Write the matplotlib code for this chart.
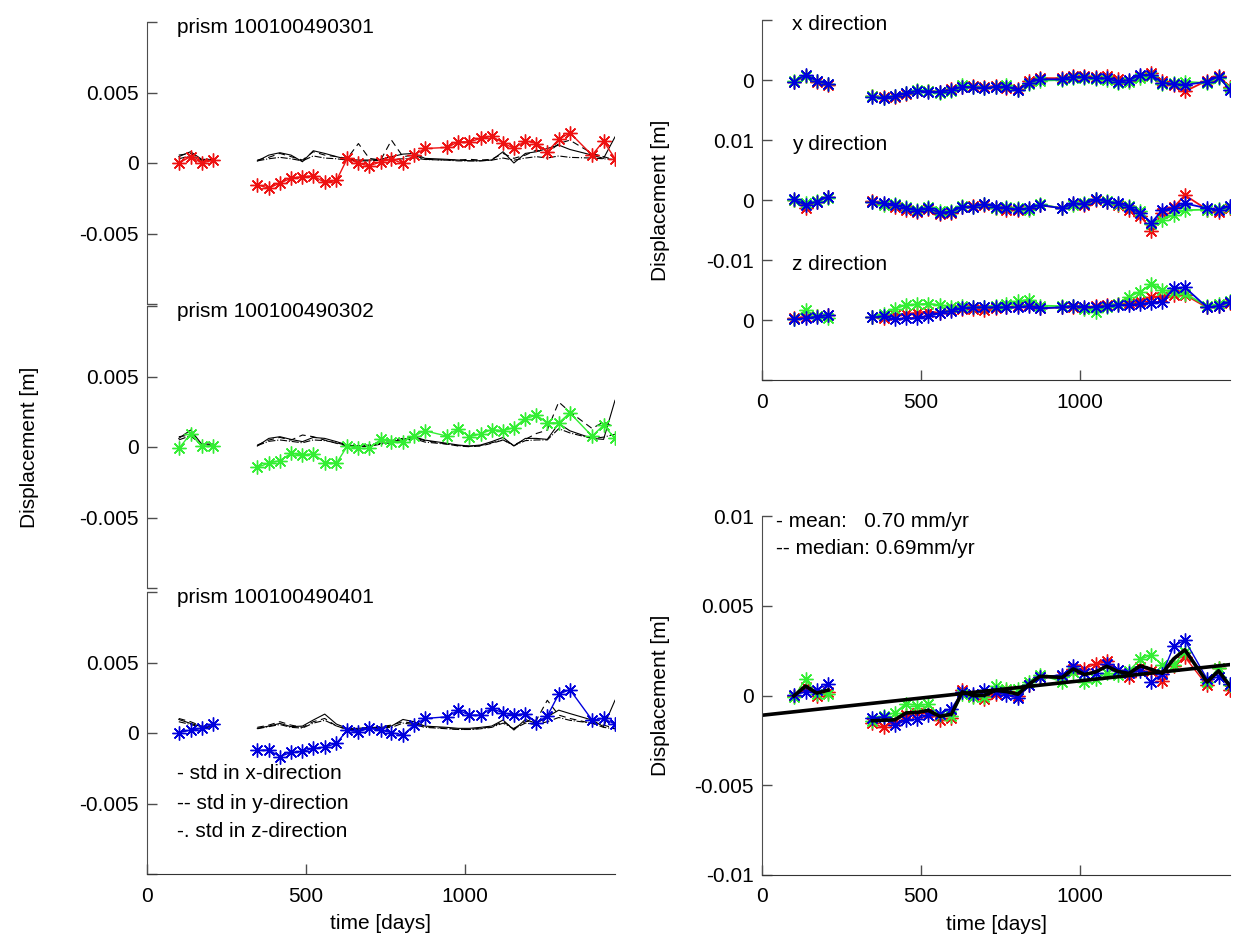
import numpy as np
import matplotlib
matplotlib.use('Agg')
import matplotlib.pyplot as plt

plt.rcParams['font.family'] = ['Liberation Sans', 'DejaVu Sans']
plt.rcParams['font.size'] = 15

# Epochs [days]; a data gap sits after the first 4 epochs
days = [100, 137, 172, 208,
        347, 383, 418, 453, 489, 523, 559, 596, 630, 665, 699, 735, 769, 805, 840, 874,
        944, 979, 1014, 1049, 1084, 1120, 1154, 1190, 1225, 1259, 1295, 1330,
        1400, 1436, 1472]

# Displacement per prism [mm]
p1_disp = [0.0, 0.45, 0.0, 0.2,
           -1.55, -1.78, -1.43, -1.08, -0.96, -0.92, -1.38, -1.24, 0.33, -0.02, -0.21, 0.09, 0.26, -0.02, 0.56, 1.03,
           1.10, 1.50, 1.50, 1.74, 1.90, 1.43, 1.03, 1.57, 1.38, 0.80, 1.67, 2.14,
           0.56, 1.55, 0.31]
p2_disp = [-0.1, 0.92, 0.07, 0.07,
           -1.43, -1.15, -0.96, -0.45, -0.56, -0.49, -1.10, -1.15, 0.07, -0.1, -0.1, 0.54, 0.38, 0.38, 0.77, 1.15,
           0.77, 1.31, 0.73, 0.92, 1.24, 1.15, 1.38, 2.02, 2.25, 1.71, 1.71, 2.42,
           0.77, 1.55, 0.61]
p3_disp = [0.02, 0.21, 0.33, 0.63,
           -1.24, -1.20, -1.67, -1.38, -1.31, -1.08, -1.01, -0.73, 0.21, 0.09, 0.33, 0.21, 0.02, -0.14, 0.56, 1.03,
           1.15, 1.62, 1.27, 1.27, 1.74, 1.43, 1.27, 1.38, 0.73, 1.20, 2.75, 3.08,
           0.92, 1.03, 0.63]

# Standard deviations per prism [mm]: x (solid), y (dashed), z (dash-dot)
p1_sx = [0.45, 0.80, 0.26, 0.26,
         0.14, 0.56, 0.73, 0.56, 0.09, 0.87, 0.68, 0.45, 0.26, 0.21, 0.21, 0.26, 0.45, 0.63, 0.68, 0.33,
         0.26, 0.21, 0.16, 0.16, 0.21, 0.80, 0.0, 0.68, 0.80, 1.03, 1.27, 0.96,
         0.56, 0.33, 1.85]
p1_sy = [0.56, 0.68, 0.21, 0.21,
         0.21, 0.40, 0.68, 0.45, 0.21, 0.80, 0.56, 0.45, 0.33, 1.38, 0.33, 0.21, 1.62, 0.45, 0.56, 0.26,
         0.21, 0.21, 0.26, 0.21, 0.26, 0.68, 0.33, 0.56, 0.92, 0.68, 1.38, 1.62,
         0.68, 0.45, 0.21]
p1_sz = [0.3, 0.5, 0.2, 0.2,
         0.15, 0.3, 0.4, 0.3, 0.15, 0.5, 0.35, 0.3, 0.2, 0.15, 0.15, 0.2, 0.25, 0.3, 0.35, 0.25,
         0.2, 0.15, 0.15, 0.15, 0.2, 0.35, 0.2, 0.35, 0.45, 0.35, 0.5, 0.4,
         0.35, 0.3, 0.25]
p2_sx = [0.61, 1.20, 0.21, 0.21,
         0.07, 0.61, 0.73, 0.54, 0.38, 0.68, 0.61, 0.38, 0.14, 0.07, 0.07, 0.26, 0.38, 0.54, 0.73, 0.49,
         0.26, 0.14, 0.07, 0.14, 0.38, 0.68, 0.07, 0.61, 0.61, 0.54, 1.67, 1.15,
         0.61, 0.54, 3.31]
p2_sy = [0.73, 0.85, 0.14, 0.14,
         0.14, 0.49, 0.68, 0.49, 0.85, 0.73, 0.49, 0.26, 0.07, 0.07, 0.14, 0.38, 0.49, 0.61, 0.68, 0.45,
         0.21, 0.07, 0.02, 0.07, 0.26, 0.49, 0.14, 0.54, 0.96, 1.20, 3.19, 2.49,
         1.31, 1.78, 1.38]
p2_sz = [0.5, 0.8, 0.15, 0.15,
         0.1, 0.4, 0.5, 0.4, 0.3, 0.5, 0.45, 0.3, 0.1, 0.05, 0.05, 0.2, 0.3, 0.45, 0.6, 0.35,
         0.2, 0.1, 0.05, 0.1, 0.3, 0.5, 0.1, 0.45, 0.5, 0.5, 1.3, 1.0,
         0.6, 0.7, 0.9]
p3_sx = [0.96, 0.68, 0.45, 0.49,
         0.33, 0.49, 0.68, 0.45, 0.49, 0.92, 1.34, 0.63, 0.33, 0.33, 0.40, 0.40, 0.49, 0.96, 0.80, 0.49,
         0.40, 0.33, 0.33, 0.40, 0.49, 0.92, 0.21, 0.96, 0.68, 1.15, 1.62, 1.38,
         0.92, 0.45, 2.32]
p3_sy = [1.03, 0.80, 0.49, 0.45,
         0.40, 0.56, 0.80, 0.56, 0.40, 0.80, 1.03, 0.49, 0.26, 0.26, 0.33, 0.45, 0.56, 0.80, 0.68, 0.45,
         0.33, 0.26, 0.26, 0.33, 0.45, 0.80, 0.33, 0.80, 0.92, 2.32, 1.27, 1.03,
         0.68, 0.56, 0.33]
p3_sz = [0.8, 0.6, 0.4, 0.4,
         0.3, 0.45, 0.6, 0.4, 0.35, 0.7, 0.9, 0.5, 0.25, 0.25, 0.3, 0.35, 0.4, 0.7, 0.6, 0.4,
         0.3, 0.25, 0.25, 0.3, 0.4, 0.7, 0.3, 0.7, 0.6, 0.8, 1.1, 0.9,
         0.7, 0.4, 0.3]

# Components per prism [mm] (red = prism 1, green = prism 2, blue = prism 3)
dx_red = [-0.3, 0.6, -0.4, -0.8, -2.6, -2.9, -2.8, -2.3, -1.9, -1.8, -2.0, -1.5, -1.2, -1.0, -1.2, -1.0, -1.3, -1.5, -0.2, 0.3,
          0.3, 0.6, 0.7, 0.5, 0.6, 0.2, -0.1, 0.6, 1.1, -0.2, -0.9, -1.9, -0.1, 0.7, -1.2]
dx_green = [-0.2, 0.7, -0.2, -0.7, -2.7, -3.0, -2.6, -2.1, -1.6, -1.8, -2.2, -1.9, -0.9, -1.1, -1.3, -1.2, -0.9, -1.6, -0.6, -0.1,
            0.0, 0.3, 0.3, 0.2, 0.0, -0.5, -0.3, 0.4, 0.6, -0.6, -0.5, -0.3, -0.5, 0.4, -1.4]
dx_blue = [-0.28, 0.83, -0.11, -0.67, -2.78, -3.06, -2.67, -2.22, -1.78, -1.94, -1.94, -1.67, -1.11, -1.22, -1.39, -1.11, -1.11, -1.67, -0.44, 0.11,
           0.11, 0.56, 0.44, 0.28, 0.28, -0.28, 0.0, 0.83, 0.83, -0.44, -0.67, -0.83, -0.28, 0.56, -1.67]
dy_red = [0.0, -1.4, -0.3, 0.5, -0.2, -0.6, -1.1, -1.6, -2.0, -1.5, -2.4, -2.1, -1.2, -1.0, -0.9, -1.4, -1.6, -1.7, -1.5, -0.9,
          -1.3, -0.6, -0.8, 0.0, -0.4, -0.9, -1.6, -2.6, -5.1, -2.2, -1.2, 0.8, -1.6, -2.0, -1.4]
dy_green = [0.0, -0.5, -0.2, 0.4, -0.4, -0.8, -0.7, -1.2, -1.6, -1.1, -1.9, -1.8, -1.0, -1.2, -0.7, -1.3, -1.2, -1.4, -1.6, -0.7,
            -1.4, -0.8, -0.5, 0.1, -0.2, -0.7, -1.0, -1.9, -4.0, -3.3, -2.5, -1.7, -1.6, -1.5, -1.2]
dy_blue = [0.11, -0.83, -0.28, 0.56, -0.28, -0.56, -0.83, -1.39, -1.78, -1.39, -2.11, -1.94, -1.11, -1.11, -0.67, -1.11, -1.39, -1.56, -1.39, -0.83,
           -1.39, -0.56, -0.67, 0.11, -0.28, -0.56, -1.11, -2.22, -3.78, -1.67, -1.39, -0.56, -1.39, -1.67, -1.0]
dz_red = [0.3, 0.5, 0.6, 0.8, 0.5, 0.3, 0.9, 1.0, 1.2, 1.4, 1.2, 1.6, 1.8, 1.9, 1.7, 2.0, 2.1, 2.4, 2.5, 2.0,
          2.1, 2.2, 2.0, 2.3, 2.5, 2.6, 2.8, 3.1, 3.9, 3.9, 4.1, 4.2, 2.1, 2.4, 2.9]
dz_green = [0.2, 1.6, 0.6, 0.3, 0.5, 1.0, 1.9, 2.5, 2.6, 2.7, 2.5, 2.2, 2.3, 2.1, 2.2, 2.4, 2.6, 3.1, 3.4, 2.4,
            2.3, 2.4, 1.9, 1.4, 2.1, 2.6, 3.9, 4.7, 6.0, 5.0, 4.7, 4.4, 2.3, 2.6, 3.2]
dz_blue = [0.11, 0.28, 0.56, 0.83, 0.44, 0.6, 0.11, 0.28, 0.28, 0.67, 1.11, 1.56, 1.94, 2.11, 2.11, 2.11, 2.11, 2.11, 2.33, 1.94,
           2.11, 2.33, 2.22, 2.11, 2.33, 2.5, 2.5, 2.67, 2.89, 3.06, 5.28, 5.44, 2.11, 2.33, 3.06]

# Linear trend
trend_intercept = -1.1   # mm at day 0
trend_rate = 0.70        # mm/yr

prism_names = ['prism 100100490301', 'prism 100100490302', 'prism 100100490401']
colors = ['#ee1111', '#33ee33', '#0000dd']

W, H = 1236, 943
GAP = 4
XMAX = 1472


def brk(a):
    # mm -> m, with a NaN at the data gap
    return np.insert(np.asarray(a, float), GAP, np.nan) * 1e-3


t = np.insert(np.asarray(days, float), GAP, np.nan)
star = (8, 2, 0)

fig = plt.figure(figsize=(W / 100, H / 100), dpi=100)


def add_axes(x0, x1, y_top, y_bot):
    return fig.add_axes([x0 / W, 1 - y_bot / H, (x1 - x0) / W, (y_bot - y_top) / H])


def style(ax, xaxis=False):
    ax.set_facecolor('none')
    ax.spines['top'].set_visible(False)
    ax.spines['right'].set_visible(False)
    ax.spines['left'].set_color('0.3')
    ax.spines['bottom'].set_color('0.2')
    ax.tick_params(direction='in', length=7, width=1, color='0.3', labelsize=15, pad=6)
    ax.set_xlim(0, XMAX)
    if xaxis:
        ax.set_xticks([0, 500, 1000])
        ax.set_xticklabels(['0', '500', '1000'])
        ax.tick_params(axis='x', pad=9)
    else:
        ax.spines['bottom'].set_visible(False)
        ax.set_xticks([])


# ---- left column: one panel per prism
disp = [p1_disp, p2_disp, p3_disp]
stds = [(p1_sx, p1_sy, p1_sz), (p2_sx, p2_sy, p2_sz), (p3_sx, p3_sy, p3_sz)]
tops = [22, 306, 592]
for i in range(3):
    ax = add_axes(147, 615, tops[i], tops[i] + 282)
    style(ax, xaxis=(i == 2))
    ax.set_ylim(-0.01, 0.01)
    ax.set_yticks([-0.01, -0.005, 0, 0.005, 0.01])
    ax.set_yticklabels(['', '-0.005', '0', '0.005', ''])
    sx, sy, sz = stds[i]
    ax.plot(t, brk(sx), '-', color='black', lw=0.8)
    ax.plot(t, brk(sy), '--', color='black', lw=0.8, dashes=(6, 4))
    ax.plot(t, brk(sz), '-.', color='black', lw=0.8)
    ax.plot(t, brk(disp[i]), '-', color=colors[i], lw=1, marker=star, ms=10, mew=1)
    ax.text(95, 0.0096, prism_names[i], va='center', ha='left', fontsize=15)
    if i == 2:
        ax.text(95, -0.00284, '- std in x-direction', va='center', fontsize=15)
        ax.text(95, -0.0050, '-- std in y-direction', va='center', fontsize=15)
        ax.text(95, -0.0070, '-. std in z-direction', va='center', fontsize=15)
        ax.set_xlabel('time [days]', fontsize=15, labelpad=6)

fig.text(30 / W, 1 - 447 / H, 'Displacement [m]', rotation=90, va='center', ha='center', fontsize=15)

# ---- right top: components x, y, z
comps = [(dx_red, dx_green, dx_blue), (dy_red, dy_green, dy_blue), (dz_red, dz_green, dz_blue)]
names = ['x direction', 'y direction', 'z direction']
rtops = [20, 140, 260]
for i in range(3):
    ax = add_axes(762, 762 + 468, rtops[i], rtops[i] + 120)
    style(ax, xaxis=(i == 2))
    ax.set_ylim(-0.01, 0.01)
    if i == 0:
        ax.set_yticks([0, 0.01])
        ax.set_yticklabels(['0', ''])
    elif i == 1:
        ax.set_yticks([-0.01, 0, 0.01])
        ax.set_yticklabels(['-0.01', '0', '0.01'])
    else:
        ax.set_yticks([-0.01, 0])
        ax.set_yticklabels(['', '0'])
    for series, c in zip(comps[i], colors):
        ax.plot(t, brk(series), '-', color=c, lw=1.3, marker=star, ms=10, mew=1)
    ax.text(95, 0.0093, names[i], va='center', ha='left', fontsize=15)

fig.text(660 / W, 1 - 200 / H, 'Displacement [m]', rotation=90, va='center', ha='center', fontsize=15)

# ---- right bottom: all prisms, mean and trend
ax = add_axes(762, 762 + 468, 516, 875)
style(ax, xaxis=True)
ax.set_ylim(-0.01, 0.01)
ax.set_yticks([-0.01, -0.005, 0, 0.005, 0.01])
ax.set_yticklabels(['-0.01', '-0.005', '0', '0.005', '0.01'])
for series, c in zip(disp, colors):
    ax.plot(t, brk(series), '-', color=c, lw=1, marker=star, ms=10, mew=1)
mean_disp = np.mean([brk(d) for d in disp], axis=0)
ax.plot(t, mean_disp, '-', color='black', lw=2.6)
tt = np.array([0, XMAX], float)
ax.plot(tt, (trend_intercept + trend_rate * tt / 365.25) * 1e-3, '-', color='black', lw=2.6)
ax.text(45, 0.0097, '- mean:   0.70 mm/yr', va='center', fontsize=15)
ax.text(45, 0.0082, '-- median: 0.69mm/yr', va='center', fontsize=15)
ax.set_xlabel('time [days]', fontsize=15, labelpad=6)

fig.text(660 / W, 1 - 695 / H, 'Displacement [m]', rotation=90, va='center', ha='center', fontsize=15)

fig.savefig('out.png', dpi=100)
